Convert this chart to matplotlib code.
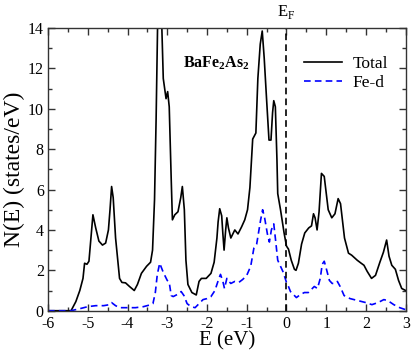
import matplotlib
matplotlib.use("Agg")
import matplotlib.pyplot as plt
from matplotlib.ticker import MultipleLocator

plt.rcParams["font.family"] = ["Liberation Serif", "DejaVu Serif"]
plt.rcParams["mathtext.fontset"] = "custom"
plt.rcParams["mathtext.rm"] = "Liberation Serif"
plt.rcParams["mathtext.bf"] = "Liberation Serif:bold"
plt.rcParams["axes.unicode_minus"] = False

# total DOS
energy_total = [-6.0, -5.42, -5.3, -5.2, -5.12, -5.08, -5.02, -4.97, -4.92, -4.87,
                -4.8, -4.72, -4.63, -4.55, -4.48, -4.44, -4.4, -4.36, -4.3, -4.25,
                -4.2, -4.14, -4.05, -3.95, -3.83, -3.75, -3.65, -3.52, -3.42, -3.37,
                -3.32, -3.28, -3.24, -3.2, -3.15, -3.1, -3.03, -2.99, -2.95, -2.9,
                -2.87, -2.81, -2.73, -2.66, -2.62, -2.57, -2.53, -2.48, -2.38, -2.27,
                -2.2, -2.14, -2.02, -1.9, -1.82, -1.75, -1.72, -1.68, -1.63, -1.6,
                -1.57, -1.53, -1.5, -1.46, -1.4, -1.3, -1.22, -1.13, -1.05, -0.98,
                -0.92, -0.85, -0.77, -0.72, -0.66, -0.61, -0.56, -0.5, -0.44, -0.39,
                -0.35, -0.32, -0.28, -0.24, -0.22, -0.15, -0.06, 0.0, 0.05, 0.12,
                0.2, 0.24, 0.3, 0.38, 0.46, 0.56, 0.63, 0.68, 0.72, 0.77,
                0.82, 0.88, 0.95, 1.05, 1.14, 1.22, 1.3, 1.36, 1.46, 1.56,
                1.64, 1.78, 1.88, 1.95, 2.03, 2.14, 2.24, 2.35, 2.44, 2.52,
                2.58, 2.65, 2.74, 2.82, 2.9, 3.0]
dos_total = [0.0, 0.0, 0.45, 1.0, 1.6, 2.35, 2.3, 2.45, 3.6, 4.75,
             4.1, 3.45, 3.25, 3.35, 4.0, 5.0, 6.15, 5.6, 3.6, 2.6,
             1.6, 1.4, 1.38, 1.2, 1.0, 1.3, 1.85, 2.2, 2.4, 3.0,
             5.5, 9.5, 14.5, 16.0, 15.0, 11.5, 10.5, 10.85, 10.1, 6.5,
             4.5, 4.75, 4.9, 5.6, 6.15, 5.0, 2.5, 1.3, 0.9, 0.78,
             1.45, 1.6, 1.6, 1.85, 2.4, 3.6, 4.4, 5.05, 4.7, 3.8,
             3.0, 4.0, 4.6, 4.1, 3.6, 4.0, 3.8, 4.15, 4.5, 5.0,
             6.1, 8.5, 8.8, 11.5, 13.2, 13.85, 12.5, 10.45, 8.45, 8.45,
             9.8, 10.4, 10.1, 7.5, 5.8, 5.0, 3.85, 3.2, 3.05, 2.5,
             2.05, 2.0, 2.35, 3.3, 3.85, 4.1, 4.2, 4.8, 4.6, 4.0,
             4.9, 6.8, 6.65, 5.0, 4.6, 4.8, 5.55, 5.3, 3.6, 2.85,
             2.75, 2.5, 2.35, 2.25, 1.95, 1.6, 1.75, 2.4, 2.9, 3.5,
             2.7, 2.25, 2.05, 1.5, 1.1, 1.0]

# Fe-d projected DOS
energy_fed = [-6.0, -5.42, -5.2, -5.0, -4.8, -4.6, -4.45, -4.4, -4.3, -4.2,
              -4.0, -3.8, -3.6, -3.45, -3.36, -3.3, -3.25, -3.19, -3.1, -3.0,
              -2.95, -2.9, -2.85, -2.75, -2.65, -2.58, -2.5, -2.4, -2.3, -2.2,
              -2.1, -2.0, -1.9, -1.8, -1.7, -1.66, -1.6, -1.56, -1.5, -1.45,
              -1.4, -1.3, -1.2, -1.1, -1.0, -0.9, -0.82, -0.75, -0.65, -0.6,
              -0.55, -0.48, -0.43, -0.38, -0.32, -0.28, -0.22, -0.15, -0.08, 0.0,
              0.05, 0.1, 0.2, 0.25, 0.35, 0.45, 0.55, 0.65, 0.7, 0.78,
              0.85, 0.9, 0.95, 1.0, 1.08, 1.15, 1.22, 1.28, 1.35, 1.45,
              1.6, 1.8, 2.0, 2.15, 2.3, 2.45, 2.55, 2.7, 2.85, 3.0]
dos_fed = [0.0, 0.0, 0.1, 0.2, 0.25, 0.25, 0.3, 0.4, 0.25, 0.15,
           0.15, 0.15, 0.2, 0.28, 0.35, 0.9, 1.8, 2.35, 1.9, 1.5,
           1.4, 0.75, 0.7, 0.8, 0.95, 0.75, 0.35, 0.2, 0.15, 0.35,
           0.55, 0.6, 0.7, 1.0, 1.6, 1.8, 1.45, 1.1, 1.6, 1.45,
           1.35, 1.45, 1.4, 1.55, 1.75, 2.2, 3.1, 3.3, 4.5, 5.0,
           4.6, 3.8, 3.4, 4.0, 4.3, 3.6, 2.5, 2.2, 1.9, 1.4,
           1.2, 0.95, 0.75, 0.65, 0.8, 0.9, 0.9, 1.1, 1.2, 1.1,
           1.6, 2.3, 2.45, 2.1, 1.5, 1.35, 1.35, 1.45, 1.2, 0.75,
           0.6, 0.5, 0.4, 0.3, 0.4, 0.55, 0.5, 0.3, 0.15, 0.05]

x_ticks = [-6, -5, -4, -3, -2, -1, 0, 1, 2, 3]
y_ticks = [0, 2, 4, 6, 8, 10, 12, 14]

fig = plt.figure(figsize=(4.15, 3.53), dpi=100)
ax = fig.add_axes([0.1157, 0.1198, 0.8619, 0.8009])

ax.plot(energy_total, dos_total, color="black", lw=1.2, label="Total")
ax.plot(energy_fed, dos_fed, color="#0000ff", lw=1.2, ls=(0, (4, 2.5)), label="Fe-d")
ax.axvline(0, color="black", lw=1.2, ls=(0, (4, 2.5)))

ax.set_xlim(-6, 3)
ax.set_ylim(0, 14)
ax.set_xticks(x_ticks)
ax.set_yticks(y_ticks)
ax.xaxis.set_minor_locator(MultipleLocator(0.5))
ax.yaxis.set_minor_locator(MultipleLocator(1))
ax.tick_params(which="both", direction="in", top=True, right=True,
               labelsize=11.5, color="#333333")
ax.tick_params(axis="x", pad=3.5)
ax.tick_params(axis="y", pad=3)
ax.tick_params(which="major", length=5, width=1)
ax.tick_params(which="minor", length=3, width=1)
for s in ax.spines.values():
    s.set_linewidth(1)
    s.set_color("#333333")

ax.set_xlabel("E (eV)", fontsize=15, labelpad=0)
ax.set_ylabel("N(E) (states/eV)", fontsize=17, labelpad=2)

ax.text(0, 14.35, r"E$_\mathrm{F}$", ha="center", va="bottom", fontsize=12)
ax.text(-2.6, 12.25, r"$\mathbf{BaFe_2As_2}$", ha="left", va="center", fontsize=11.5)

ax.legend(loc="upper left", bbox_to_anchor=(0.715, 0.90), frameon=False,
          fontsize=12.5, handlelength=2.2, handletextpad=0.6, labelspacing=0.15,
          borderpad=0, borderaxespad=0)

fig.savefig("out.png", dpi=100)
